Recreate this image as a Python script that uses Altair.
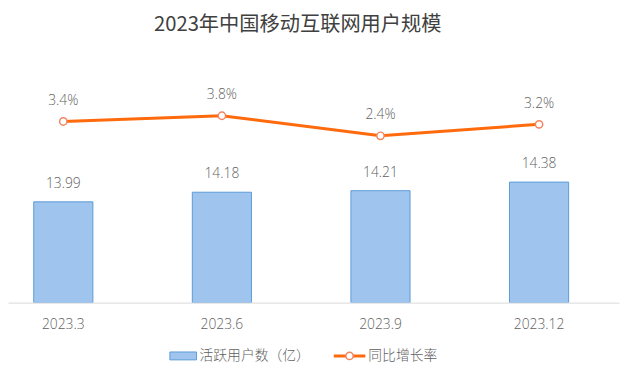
import altair as alt
import pandas as pd

periods = ["2023.3", "2023.6", "2023.9", "2023.12"]
users = [13.99, 14.18, 14.21, 14.38]
growth = [3.4, 3.8, 2.4, 3.2]
bar_name = "活跃用户数（亿）"
line_name = "同比增长率"
title_text = "2023年中国移动互联网用户规模"

df = pd.DataFrame({"period": periods, "users": users, "growth": growth})
df["users_label"] = [f"{v:.2f}" for v in users]
df["growth_label"] = [f"{v:.1f}%" for v in growth]

FONT = "Open Sans, Noto Sans CJK SC, sans-serif"
TFONT = "Noto Sans CJK SC, sans-serif"
TXT = "#5f5f5f"
LW = 300
W, H = 619, 200

x_enc = alt.X(
    "period:N", sort=periods, title=None,
    scale=alt.Scale(paddingInner=0.627, paddingOuter=0.24, align=0.338),
    axis=alt.Axis(labelAngle=0, ticks=False, domainColor="#D9D9D9", domainWidth=1,
                  labelColor=TXT, labelFontSize=14, labelFont=FONT, labelFontWeight=LW,
                  labelPadding=15),
)
y_bar = alt.Scale(domain=[12, 12 + H / 51.3], zero=False, nice=False)
y_line = alt.Scale(domain=[2.4 - (H - 31) / 14.5, 2.4 + 31 / 14.5], zero=False, nice=False)

base = alt.Chart(df).encode(x=x_enc)

bars = base.mark_bar(color="#9FC5EF", stroke="#5B9BD5", strokeWidth=1, clip=True).encode(
    y=alt.Y("users:Q", scale=y_bar, axis=None),
    y2=alt.datum(12),
)
bar_text = base.mark_text(dy=-18, font=FONT, fontSize=14, fontWeight=LW, color=TXT).encode(
    y=alt.Y("users:Q", scale=y_bar, axis=None), text="users_label:N"
)
line = base.mark_line(color="#FF6A0D", strokeWidth=3).encode(
    y=alt.Y("growth:Q", scale=y_line, axis=None)
)
pts = base.mark_point(filled=True, fill="white", stroke="#F4845F", strokeWidth=1.5, size=55, opacity=1).encode(
    y=alt.Y("growth:Q", scale=y_line, axis=None)
)
line_text = base.mark_text(dy=-21, font=FONT, fontSize=14, fontWeight=LW, color=TXT).encode(
    y=alt.Y("growth:Q", scale=y_line, axis=None), text="growth_label:N"
)

leg = pd.DataFrame({"name": [bar_name, line_name]})
leg_rect = alt.Chart(leg).transform_filter(alt.datum.name == bar_name).mark_rect(
    color="#9FC5EF", stroke="#5B9BD5", strokeWidth=1
).encode(x=alt.value(164), x2=alt.value(191), y=alt.value(250), y2=alt.value(258))
leg_line = alt.Chart(leg).transform_filter(alt.datum.name == line_name).mark_rule(
    color="#FF6A0D", strokeWidth=3
).encode(x=alt.value(330), x2=alt.value(362), y=alt.value(254))
leg_pt = alt.Chart(leg).transform_filter(alt.datum.name == line_name).mark_point(
    filled=True, fill="white", stroke="#F4845F", strokeWidth=1.5, size=55, opacity=1
).encode(x=alt.value(346), y=alt.value(254))
leg_t1 = alt.Chart(leg).transform_filter(alt.datum.name == bar_name).mark_text(
    align="left", baseline="middle", font=FONT, fontSize=14, fontWeight=LW, color=TXT
).encode(x=alt.value(194), y=alt.value(254), text="name:N")
leg_t2 = alt.Chart(leg).transform_filter(alt.datum.name == line_name).mark_text(
    align="left", baseline="middle", font=FONT, fontSize=14, fontWeight=LW, color=TXT
).encode(x=alt.value(365), y=alt.value(254), text="name:N")

chart = alt.layer(
    bars, bar_text, line, pts, line_text, leg_rect, leg_line, leg_pt, leg_t1, leg_t2
).resolve_scale(y="independent").properties(
    width=W, height=H,
    background="white",
    autosize=alt.AutoSizeParams(type="none"),
    padding={"left": 0, "top": 96, "right": 2, "bottom": 81},
    title=alt.TitleParams(title_text, font=TFONT, fontSize=20.5, fontWeight="normal",
                          color="#404040", anchor="middle", dx=-16, offset=53),
).configure_view(strokeWidth=0, stroke="transparent")

chart.save("out.html", embed_options={"renderer": "svg", "actions": False})
